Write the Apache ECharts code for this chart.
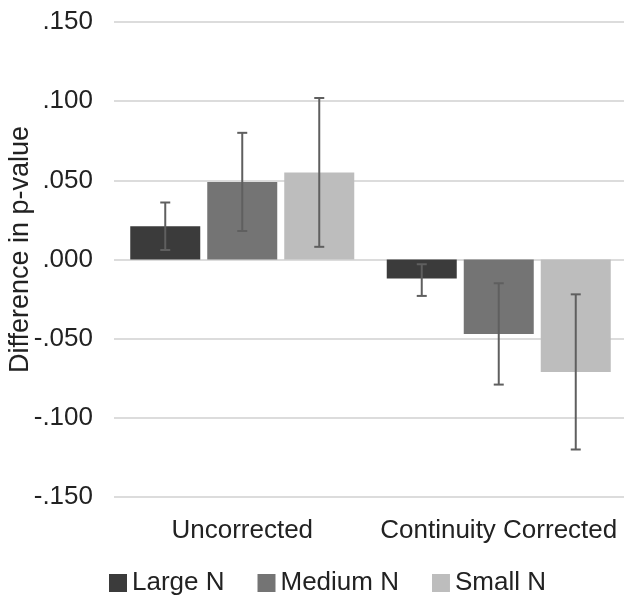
<!DOCTYPE html>
<html>
<head>
<meta charset="utf-8">
<script src="https://cdn.jsdelivr.net/npm/echarts@6/dist/echarts.min.js"></script>
<style>
html, body { margin: 0; padding: 0; background: #fff; }
#chart { width: 624px; height: 601px; }
</style>
</head>
<body>
<div id="chart"></div>
<script>
var categories = ['Uncorrected', 'Continuity Corrected'];
var groupNames = ['Large N', 'Medium N', 'Small N'];

// bar heights (difference in p-value)
var largeN = [0.021, -0.012];
var mediumN = [0.049, -0.047];
var smallN = [0.055, -0.071];

// error bars [low, high] per category
var largeErr = [[0.006, 0.036], [-0.023, -0.003]];
var mediumErr = [[0.018, 0.080], [-0.079, -0.015]];
var smallErr = [[0.008, 0.102], [-0.120, -0.022]];

var yTickLabels = ['-.150', '-.100', '-.050', '.000', '.050', '.100', '.150'];

var colors = ['#3b3b3b', '#747474', '#bdbdbd'];
var textColor = '#222';
var fontFamily = 'Liberation Sans, Arial, sans-serif';

function errorSeries(errs, offset) {
    return {
        type: 'custom',
        z: 10,
        data: errs.map(function (e, i) { return [i, e[0], e[1]]; }),
        encode: { x: 0, y: [1, 2] },
        renderItem: function (params, api) {
            var lo = api.coord([api.value(0), api.value(1)]);
            var hi = api.coord([api.value(0), api.value(2)]);
            var x = lo[0] + offset;
            var half = 5;
            var style = { stroke: '#5f5f5f', lineWidth: 2 };
            return {
                type: 'group',
                children: [
                    { type: 'line', shape: { x1: x, y1: hi[1], x2: x, y2: lo[1] }, style: style },
                    { type: 'line', shape: { x1: x - half, y1: hi[1], x2: x + half, y2: hi[1] }, style: style },
                    { type: 'line', shape: { x1: x - half, y1: lo[1], x2: x + half, y2: lo[1] }, style: style }
                ]
            };
        }
    };
}

function barSeries(name, data) {
    return {
        name: name,
        type: 'bar',
        barWidth: 70,
        barGap: '10%',
        data: data
    };
}

var option = {
    animation: false,
    color: colors,
    textStyle: { fontFamily: fontFamily },
    grid: {
        left: 114,
        width: 513,
        top: 22,
        bottom: 104,
        containLabel: false,
        outerBoundsMode: 'none'
    },
    legend: {
        data: groupNames,
        left: 104,
        top: 565,
        icon: 'rect',
        itemWidth: 18,
        itemHeight: 18,
        itemGap: 33,
        textStyle: { fontSize: 26, color: textColor, fontFamily: fontFamily }
    },
    xAxis: {
        type: 'category',
        data: categories,
        position: 'bottom',
        axisLine: { show: false, onZero: false },
        axisTick: { show: false },
        axisLabel: { fontSize: 26, color: textColor, margin: 21, interval: 0 }
    },
    yAxis: {
        type: 'value',
        min: -0.15,
        max: 0.15,
        interval: 0.05,
        name: 'Difference in p-value',
        nameLocation: 'middle',
        nameGap: 80,
        nameMoveOverlap: false,
        nameTextStyle: { fontSize: 27, color: textColor, padding: [0, 0, 0, 20] },
        axisLine: { show: false },
        axisTick: { show: false },
        splitLine: { lineStyle: { color: '#dcdcdc', width: 2 } },
        axisLabel: {
            fontSize: 26,
            color: textColor,
            margin: 21,
            formatter: function (v) {
                return yTickLabels[Math.round((v + 0.15) / 0.05)];
            }
        }
    },
    series: [
        barSeries(groupNames[0], largeN),
        barSeries(groupNames[1], mediumN),
        barSeries(groupNames[2], smallN),
        errorSeries(largeErr, -77),
        errorSeries(mediumErr, 0),
        errorSeries(smallErr, 77)
    ]
};

var chart = echarts.init(document.getElementById('chart'), null, { renderer: 'canvas' });
chart.setOption(option);
</script>
</body>
</html>
